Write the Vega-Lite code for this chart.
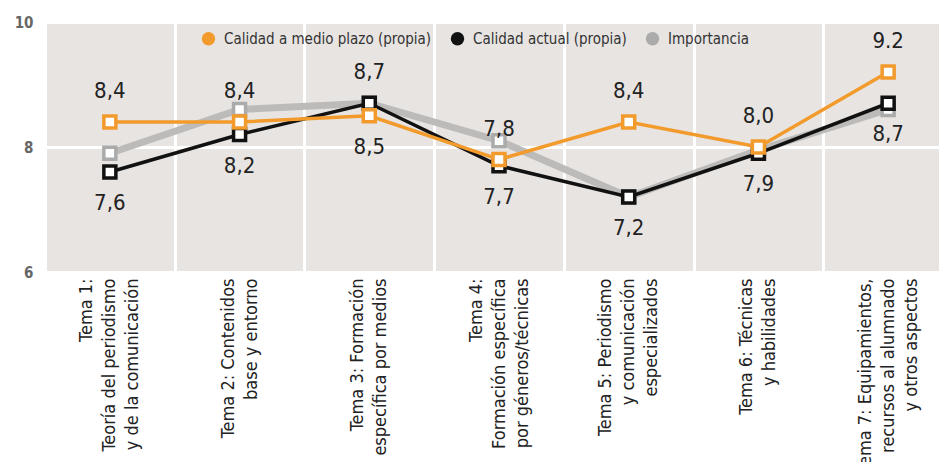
{
  "$schema": "https://vega.github.io/schema/vega-lite/v6.json",
  "width": 894,
  "height": 250,
  "autosize": {"type": "none"},
  "padding": {"left": 45, "top": 22, "right": 0, "bottom": 190},
  "background": "white",
  "config": {
    "view": {"fill": "#e7e4e2", "stroke": null},
    "font": "Liberation Sans Narrow, DejaVu Sans Condensed, sans-serif"
  },
  "data": {
    "values": [
      {"tema": "Tema 1:\nTeoría del periodismo\ny de la comunicación", "serie": "Importancia", "valor": 7.9},
      {"tema": "Tema 2: Contenidos\nbase y entorno", "serie": "Importancia", "valor": 8.6},
      {"tema": "Tema 3: Formación\nespecífica por medios", "serie": "Importancia", "valor": 8.7},
      {"tema": "Tema 4:\nFormación específica\npor géneros/técnicas", "serie": "Importancia", "valor": 8.1},
      {"tema": "Tema 5: Periodismo\ny comunicación\nespecializados", "serie": "Importancia", "valor": 7.2},
      {"tema": "Tema 6: Técnicas\ny habilidades", "serie": "Importancia", "valor": 7.95},
      {"tema": "Tema 7: Equipamientos,\nrecursos al alumnado\ny otros aspectos", "serie": "Importancia", "valor": 8.6},
      {"tema": "Tema 1:\nTeoría del periodismo\ny de la comunicación", "serie": "Calidad actual (propia)", "valor": 7.6, "etiqueta": "7,6", "lado": "abajo"},
      {"tema": "Tema 2: Contenidos\nbase y entorno", "serie": "Calidad actual (propia)", "valor": 8.2, "etiqueta": "8,2", "lado": "abajo"},
      {"tema": "Tema 3: Formación\nespecífica por medios", "serie": "Calidad actual (propia)", "valor": 8.7, "etiqueta": "8,7", "lado": "arriba"},
      {"tema": "Tema 4:\nFormación específica\npor géneros/técnicas", "serie": "Calidad actual (propia)", "valor": 7.7, "etiqueta": "7,7", "lado": "abajo"},
      {"tema": "Tema 5: Periodismo\ny comunicación\nespecializados", "serie": "Calidad actual (propia)", "valor": 7.2, "etiqueta": "7,2", "lado": "abajo"},
      {"tema": "Tema 6: Técnicas\ny habilidades", "serie": "Calidad actual (propia)", "valor": 7.9, "etiqueta": "7,9", "lado": "abajo"},
      {"tema": "Tema 7: Equipamientos,\nrecursos al alumnado\ny otros aspectos", "serie": "Calidad actual (propia)", "valor": 8.7, "etiqueta": "8,7", "lado": "abajo"},
      {"tema": "Tema 1:\nTeoría del periodismo\ny de la comunicación", "serie": "Calidad a medio plazo (propia)", "valor": 8.4, "etiqueta": "8,4", "lado": "arriba"},
      {"tema": "Tema 2: Contenidos\nbase y entorno", "serie": "Calidad a medio plazo (propia)", "valor": 8.4, "etiqueta": "8,4", "lado": "arriba"},
      {"tema": "Tema 3: Formación\nespecífica por medios", "serie": "Calidad a medio plazo (propia)", "valor": 8.5, "etiqueta": "8,5", "lado": "abajo"},
      {"tema": "Tema 4:\nFormación específica\npor géneros/técnicas", "serie": "Calidad a medio plazo (propia)", "valor": 7.8, "etiqueta": "7,8", "lado": "arriba"},
      {"tema": "Tema 5: Periodismo\ny comunicación\nespecializados", "serie": "Calidad a medio plazo (propia)", "valor": 8.4, "etiqueta": "8,4", "lado": "arriba"},
      {"tema": "Tema 6: Técnicas\ny habilidades", "serie": "Calidad a medio plazo (propia)", "valor": 8.0, "etiqueta": "8,0", "lado": "arriba"},
      {"tema": "Tema 7: Equipamientos,\nrecursos al alumnado\ny otros aspectos", "serie": "Calidad a medio plazo (propia)", "valor": 9.2, "etiqueta": "9.2", "lado": "arriba"}
    ]
  },
  "encoding": {
    "x": {
      "field": "tema", "type": "nominal", "sort": null,
      "scale": {"range": [0, 908], "paddingInner": 0, "paddingOuter": 0},
      "axis": {
        "title": null, "labelAngle": -90, "labelAlign": "right", "labelBaseline": "middle",
        "labelExpr": "split(datum.label, '\\n')", "labelFontSize": 18, "labelColor": "#222",
        "labelPadding": 6, "labelLineHeight": 23, "labelLimit": 0, "ticks": false, "domain": false,
        "grid": true, "gridColor": "white", "gridWidth": 3, "tickBand": "extent",
        "encoding": {"labels": {"dy": {"value": {"expr": "-(length(split(datum.label, '\\n')) - 1) * 11.5"}}}}
      }
    },
    "y": {
      "field": "valor", "type": "quantitative",
      "scale": {"domain": [6, 10], "nice": false},
      "axis": {
        "title": null, "values": [6, 8, 10], "labelFontSize": 15, "labelFontWeight": "bold",
        "labelColor": "#666", "labelPadding": 12, "ticks": false, "domain": false,
        "grid": true, "gridColor": "white", "gridWidth": 3
      }
    }
  },
  "layer": [
    {
      "transform": [{"filter": "datum.serie === 'Importancia'"}],
      "mark": {"type": "line", "strokeWidth": 7, "color": "#bcbbba"},
      "encoding": {"detail": {"field": "serie", "type": "nominal"}}
    },
    {
      "transform": [{"filter": "datum.serie === 'Importancia'"}],
      "mark": {"type": "point", "shape": "square", "filled": false, "fill": "white", "size": 144, "strokeWidth": 3.5, "opacity": 1},
      "encoding": {
        "color": {
          "field": "serie", "type": "nominal",
          "scale": {"domain": ["Calidad a medio plazo (propia)", "Calidad actual (propia)", "Importancia"], "range": ["#f29b2c", "#111111", "#ababab"]},
          "legend": {
            "orient": "none", "legendX": 156, "legendY": 9, "direction": "horizontal", "title": null,
            "symbolType": "circle", "symbolSize": 180, "symbolStrokeWidth": 0, "labelFontSize": 15,
            "labelColor": "#333", "columnPadding": 18, "labelOffset": 8, "labelLimit": 0,
            "encoding": {"symbols": {"fill": {"value": {"expr": "scale('color', datum.value)"}}, "opacity": {"value": 1}}}
          }
        }
      }
    },
    {
      "transform": [{"filter": "datum.serie === 'Calidad actual (propia)'"}],
      "mark": {"type": "line", "strokeWidth": 3.5},
      "encoding": {"color": {"field": "serie", "type": "nominal"}}
    },
    {
      "transform": [{"filter": "datum.serie === 'Calidad actual (propia)'"}],
      "mark": {"type": "point", "shape": "square", "filled": false, "fill": "white", "size": 144, "strokeWidth": 3.5, "opacity": 1},
      "encoding": {"color": {"field": "serie", "type": "nominal"}}
    },
    {
      "transform": [{"filter": "datum.serie === 'Calidad a medio plazo (propia)'"}],
      "mark": {"type": "line", "strokeWidth": 3.5},
      "encoding": {"color": {"field": "serie", "type": "nominal"}}
    },
    {
      "transform": [{"filter": "datum.serie === 'Calidad a medio plazo (propia)'"}],
      "mark": {"type": "point", "shape": "square", "filled": false, "fill": "white", "size": 144, "strokeWidth": 3.5, "opacity": 1},
      "encoding": {"color": {"field": "serie", "type": "nominal"}}
    },
    {
      "transform": [{"filter": "datum.lado === 'arriba'"}],
      "mark": {"type": "text", "dy": -31, "fontSize": 22, "color": "#222", "baseline": "middle"},
      "encoding": {"text": {"field": "etiqueta"}}
    },
    {
      "transform": [{"filter": "datum.lado === 'abajo'"}],
      "mark": {"type": "text", "dy": 31, "fontSize": 22, "color": "#222", "baseline": "middle"},
      "encoding": {"text": {"field": "etiqueta"}}
    }
  ]
}
